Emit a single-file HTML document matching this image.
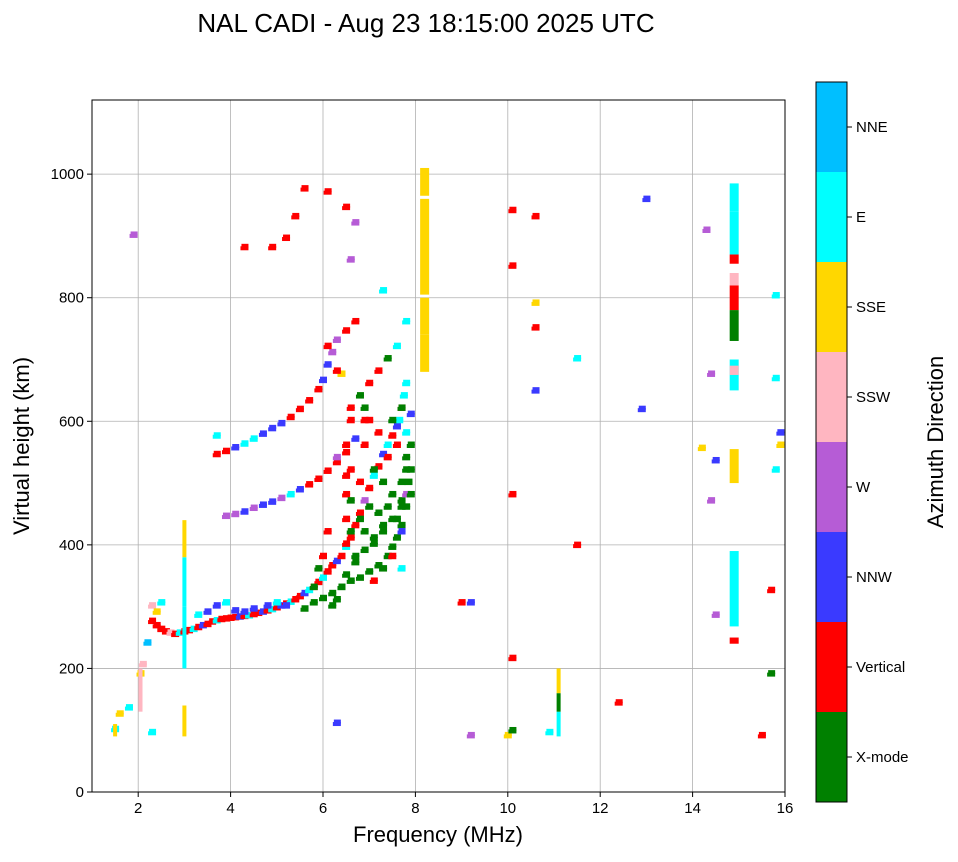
<!DOCTYPE html>
<html><head><meta charset="utf-8"><style>
body{margin:0;background:#fff;font-family:"Liberation Sans",sans-serif}
svg text{font-family:"Liberation Sans",sans-serif}
</style></head><body>
<svg id="c" width="958" height="857"></svg>
<script>
const dirLabels=["X-mode","Vertical","NNW","W","SSW","SSE","E","NNE"];
const dirColors=["#008000","#ff0000","#3a3aff","#b65cd6","#ffb6c1","#ffd700","#00ffff","#00bfff"];
const xTicks=[2,4,6,8,10,12,14,16];
const yTicks=[0,200,400,600,800,1000];
// scattered echoes: frequency (MHz), virtual height (km), direction index
const ptFreq=[2.3,2.4,2.5,2.6,2.7,2.8,2.9,3.0,3.1,3.2,3.3,3.4,3.5,3.6,3.7,3.8,3.9,4.0,4.1,4.2,4.3,4.4,4.5,4.6,4.7,4.8,4.9,5.0,5.1,5.2,5.3,5.4,5.5,5.6,5.7,5.8,5.9,6.0,6.1,6.2,6.3,6.4,6.5,6.6,6.7,6.8,6.9,7.0,7.1,7.2,7.3,7.4,7.5,7.6,7.65,7.7,7.75,7.8,
5.6,5.8,6.0,6.2,6.4,6.6,6.8,7.0,7.2,7.4,7.5,7.6,7.7,7.8,7.85,7.9,7.8,7.7,
3.9,4.1,4.3,4.5,4.7,4.9,5.1,5.3,5.5,5.7,5.9,6.1,6.3,6.5,6.7,
3.7,3.9,4.1,4.3,4.5,4.7,4.9,5.1,5.3,5.5,5.7,5.9,6.0,6.1,6.2,6.3,6.5,6.7,
2.3,2.4,2.5,2.2,2.1,3.3,3.5,3.7,3.9,4.1,4.3,4.5,4.8,5.0,5.2,
1.5,1.6,1.8,1.9,2.05,2.3,6.4,6.7,6.5,6.1,5.6,5.4,5.2,4.9,4.3,3.7,6.3,6.6,6.9,7.3,6.6,
9.0,9.2,10.1,10.1,10.1,10.6,10.6,10.1,10.6,10.6,11.5,11.5,12.4,13.0,12.9,14.3,14.4,14.5,14.5,14.4,14.2,15.8,15.8,15.9,15.9,15.8,15.7,15.7,15.5,10.9,9.2,10.0,10.1,6.3,
6.5,6.5,6.5,6.5,6.5,6.6,6.6,6.6,6.7,6.8,6.8,6.9,6.9,7.0,7.0,7.1,7.1,7.2,7.2,7.3,7.3,7.4,7.4,7.5,7.5,7.6,7.6,7.7,7.7,7.8,7.8,7.9,7.9,7.8,7.7,6.4,6.5,6.7,6.9,7.1,7.3,7.5,7.7,7.9,6.2,6.3,6.0,6.1,5.8,5.9,6.6,6.8,7.0,7.2,7.4,7.6,7.8,7.1,7.3,7.5,6.9,7.7,6.3,6.1];
const ptHeight=[275,268,262,258,256,254,256,258,260,262,265,268,270,274,276,278,279,280,281,282,283,284,286,288,290,292,294,297,300,303,306,310,315,320,325,330,338,345,355,365,372,380,395,410,430,450,470,490,510,525,545,560,575,590,600,620,640,660,
295,305,312,320,330,340,345,355,365,380,395,410,430,460,500,560,520,470,
445,448,452,458,463,468,474,480,488,496,505,518,532,548,570,
545,550,556,562,570,578,587,595,605,618,632,650,665,690,710,730,745,760,
300,290,305,240,205,285,290,300,305,292,290,295,300,305,300,
100,125,135,900,190,95,675,920,945,970,975,930,895,880,880,575,540,620,600,810,860,
305,305,940,850,480,930,750,215,790,648,700,398,143,958,618,908,675,535,285,470,555,802,668,580,560,520,325,190,90,95,90,90,98,110,
400,440,480,510,560,420,470,520,380,440,500,420,560,460,600,410,520,450,580,430,500,460,540,480,600,440,560,500,620,540,580,520,610,480,420,330,350,370,390,400,420,440,460,480,300,310,380,420,330,360,600,640,660,680,700,720,760,340,360,380,620,360,680,720];
const ptDir=[1,1,1,1,4,1,6,1,1,6,1,2,1,1,6,1,1,1,1,2,1,6,1,1,2,1,6,1,2,1,6,1,1,2,6,1,1,6,1,1,2,1,6,1,1,1,3,1,6,1,2,6,1,2,6,1,6,6,
0,0,0,0,0,0,0,0,0,0,0,0,0,0,0,0,0,0,
3,3,2,3,2,2,3,6,2,1,1,1,1,1,2,
1,1,2,6,6,2,2,2,1,1,1,1,2,2,3,3,1,1,
4,5,6,7,4,6,2,2,6,2,2,2,2,6,2,
6,5,6,3,5,6,5,3,1,1,1,1,1,1,1,6,3,1,1,6,3,
1,2,1,1,1,1,1,1,5,2,6,1,1,2,2,3,3,2,3,3,5,6,6,2,5,6,1,0,1,6,3,5,0,2,
1,1,1,1,1,0,0,1,0,0,1,0,1,0,1,0,0,0,1,0,0,0,1,0,0,0,1,0,0,0,6,0,2,3,2,0,0,0,0,0,0,0,0,0,0,0,1,1,0,0,1,0,1,1,0,6,6,1,0,1,0,6,1,1];
// vertical column echoes: frequency, start height, end height, direction
const colFreq=[3.0,3.0,3.0,3.0,8.2,8.2,8.2,8.2,14.9,14.9,14.9,14.9,14.9,14.9,14.9,14.9,14.9,14.9,14.9,11.1,11.1,11.1,2.05,1.5];
const colStart=[200,300,380,90,680,740,805,965,730,780,820,855,870,940,500,650,675,240,268,90,130,160,130,90];
const colEnd=[300,380,440,140,740,800,960,1010,780,820,840,870,940,985,555,700,690,250,390,130,160,200,200,110];
const colDir=[6,6,5,5,5,5,5,5,0,1,4,1,6,6,5,6,4,1,6,6,0,5,4,5];

const svg=document.getElementById('c');const NS='http://www.w3.org/2000/svg';
const X0=92,X1=785,Y0=792,Y1=100;
const xs=f=>X0+(f-1)/(16-1)*(X1-X0);
const ys=h=>Y0-h/1120*(Y0-Y1);
function mk(t,a,p){const e=document.createElementNS(NS,t);for(const k in a)e.setAttribute(k,a[k]);(p||svg).appendChild(e);return e;}
let g;
const title=mk('text',{x:426,y:32,'text-anchor':'middle','font-size':26});title.textContent='NAL CADI - Aug 23 18:15:00 2025 UTC';


g=mk('g',{});


xTicks.forEach(t=>{mk('line',{x1:xs(t),x2:xs(t),y1:Y1,y2:Y0,stroke:'#b0b0b0','stroke-width':0.8},g);});
yTicks.forEach(t=>{mk('line',{x1:X0,x2:X1,y1:ys(t),y2:ys(t),stroke:'#b0b0b0','stroke-width':0.8},g);});
const marks=mk('g',{});


for(let i=0;i<ptFreq.length;i++){
 const r=mk('rect',{x:xs(ptFreq[i])-4,y:ys(ptHeight[i])-2,width:8,height:4,fill:dirColors[ptDir[i]]},marks);
 
 
 const r2=mk('rect',{x:xs(ptFreq[i])-3,y:ys(ptHeight[i]+4)-2,width:7,height:4,fill:dirColors[ptDir[i]]},marks);
 
 
}
for(let i=0;i<colFreq.length;i++){
 let w=(colFreq[i]<3.5||colFreq[i]==11.1)?4:9;
 const r=mk('rect',{x:xs(colFreq[i])-w/2,y:ys(colEnd[i]),width:w,height:ys(colStart[i])-ys(colEnd[i]),fill:dirColors[colDir[i]]},marks);
 
 
}
mk('rect',{x:X0,y:Y1,width:X1-X0,height:Y0-Y1,fill:'none',stroke:'#000','stroke-width':1});
const ax=mk('g',{});


xTicks.forEach(t=>{mk('line',{x1:xs(t),x2:xs(t),y1:Y0,y2:Y0+5,stroke:'#000'},ax);const tx=mk('text',{x:xs(t),y:Y0+21,'text-anchor':'middle','font-size':15},ax);tx.textContent=t;});
const xl=mk('text',{x:438,y:842,'text-anchor':'middle','font-size':22},ax);xl.textContent='Frequency (MHz)';


const ay=mk('g',{});


yTicks.forEach(t=>{mk('line',{x1:X0-5,x2:X0,y1:ys(t),y2:ys(t),stroke:'#000'},ay);const tx=mk('text',{x:X0-8,y:ys(t)+5,'text-anchor':'end','font-size':15},ay);tx.textContent=t;});
const yl=mk('text',{x:29,y:446,'text-anchor':'middle','font-size':22,transform:'rotate(-90 29 446)'},ay);yl.textContent='Virtual height (km)';


const cb=mk('g',{});


const CT=82,CB=802,seg=(CB-CT)/8;
for(let i=0;i<8;i++){
 const y=CB-(i+1)*seg;
 const r=mk('rect',{x:816,y:y,width:31,height:seg,fill:dirColors[i]},cb);
 
 
 mk('line',{x1:847,x2:852,y1:y+seg/2,y2:y+seg/2,stroke:'#000'},cb);
 const t=mk('text',{x:856,y:y+seg/2+5,'font-size':15},cb);t.textContent=dirLabels[i];
}
mk('rect',{x:816,y:CT,width:31,height:CB-CT,fill:'none',stroke:'#000'},cb);
const cl=mk('text',{x:943,y:442,'text-anchor':'middle','font-size':22,transform:'rotate(-90 943 442)'},cb);cl.textContent='Azimuth Direction';


</script>
</body></html>
